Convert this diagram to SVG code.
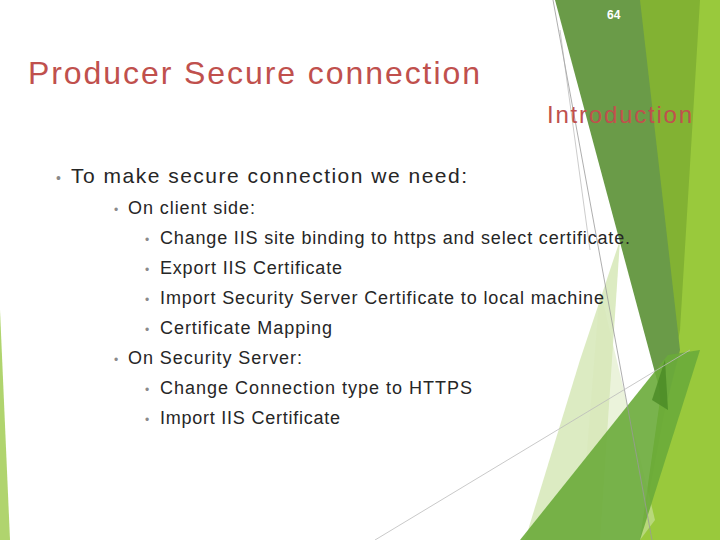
<svg xmlns="http://www.w3.org/2000/svg" width="720" height="540" viewBox="0 0 720 540">
<style>
.t{font-family:"Liberation Sans",Arial,sans-serif;fill:#262626}
.b{font-family:"Liberation Sans",Arial,sans-serif;fill:#8a8a8a}
</style>
<rect width="720" height="540" fill="#fff"/>
<g id="decor">
<polygon points="0,310 10,540 0,540" fill="#9cc94a" opacity="0.8"/>
<polygon points="636,0 705,0 690,230 668,540 640,540 660,400" fill="#82b233"/>
<polygon points="700,0 720,0 720,540 640,540 680,330" fill="#99c93c"/>
<polygon points="555,0 640,0 680,350 665,410" fill="#6a9b48"/>
<polygon points="620,240 580,360 525,540 600,540" fill="#c5dd9a" opacity="0.6"/>
<polygon points="600,290 655,520 640,540 580,540" fill="#d8e8b8" opacity="0.5"/>
<polygon points="668,355 700,350 640,540 520,540" fill="#6aab3a" opacity="0.9"/>
<polygon points="665,360 668,410 652,400" fill="#4a8a25" opacity="0.8"/>
<line x1="553" y1="0" x2="652" y2="540" stroke="#999" stroke-width="0.8"/>
<line x1="560" y1="30" x2="590" y2="250" stroke="#aaa" stroke-width="0.6"/>
<line x1="375" y1="540" x2="690" y2="350" stroke="#bbb" stroke-width="0.8"/>
</g>
<g id="texts">
<text x="607" y="19" font-family="Liberation Sans,Arial,sans-serif" font-size="12" font-weight="bold" fill="#fff">64</text>
<text x="28" y="84" font-family="Liberation Sans,Arial,sans-serif" font-size="32" fill="#c0504d" textLength="452" lengthAdjust="spacing">Producer Secure connection</text>
<text x="547" y="123" font-family="Liberation Sans,Arial,sans-serif" font-size="24" fill="#c0504d" textLength="145" lengthAdjust="spacing">Introduction</text>
<text x="56" y="183" class="b" font-size="14">•</text>
<text x="71" y="183" class="t" font-size="21" textLength="396" lengthAdjust="spacing">To make secure connection we need:</text>
<text x="114" y="214" class="b" font-size="12">•</text>
<text x="128" y="214" class="t" font-size="18" textLength="127" lengthAdjust="spacing">On client side:</text>
<text x="145" y="244" class="b" font-size="12">•</text>
<text x="160" y="244" class="t" font-size="18" textLength="470" lengthAdjust="spacing">Change IIS site binding to https and select certificate.</text>
<text x="145" y="274" class="b" font-size="12">•</text>
<text x="160" y="274" class="t" font-size="18" textLength="182" lengthAdjust="spacing">Export IIS Certificate</text>
<text x="145" y="304" class="b" font-size="12">•</text>
<text x="160" y="304" class="t" font-size="18" textLength="444" lengthAdjust="spacing">Import Security Server Certificate to local machine</text>
<text x="145" y="334" class="b" font-size="12">•</text>
<text x="160" y="334" class="t" font-size="18" textLength="172" lengthAdjust="spacing">Certificate Mapping</text>
<text x="114" y="364" class="b" font-size="12">•</text>
<text x="128" y="364" class="t" font-size="18" textLength="174" lengthAdjust="spacing">On Security Server:</text>
<text x="145" y="394" class="b" font-size="12">•</text>
<text x="160" y="394" class="t" font-size="18" textLength="312" lengthAdjust="spacing">Change Connection type to HTTPS</text>
<text x="145" y="424" class="b" font-size="12">•</text>
<text x="160" y="424" class="t" font-size="18" textLength="180" lengthAdjust="spacing">Import IIS Certificate</text>
</g>
</svg>
